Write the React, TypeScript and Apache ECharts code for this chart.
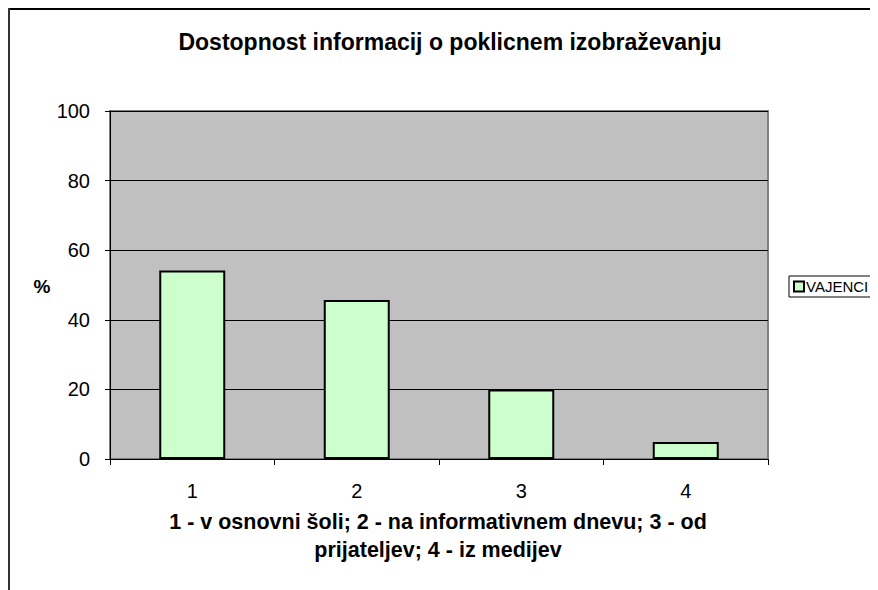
import React, { useEffect, useRef } from "react";
import * as echarts from "echarts";

const categories = ["1", "2", "3", "4"];
const vajenci = [54.2, 45.7, 20.0, 4.9];
const seriesName = "VAJENCI";
const titleText = "Dostopnost informacij o poklicnem izobraževanju";
const xAxisTitleLines = ["1 - v osnovni šoli; 2 - na informativnem dnevu; 3 - od", "prijateljev; 4 - iz medijev"];
const yAxisTitle = "%";

const FONT = "'Liberation Sans', Arial, sans-serif";

export default function App() {
  const ref = useRef<HTMLDivElement>(null);
  useEffect(() => {
    if (!ref.current) return;
    const chart = echarts.init(ref.current, null, { renderer: "svg" });
    chart.setOption({
      animation: false,
      backgroundColor: "#ffffff",
      textStyle: { fontFamily: FONT, color: "#000" },
      grid: {
        left: 102,
        top: 103,
        right: 110,
        bottom: 131,
        show: true,
        backgroundColor: "#C0C0C0",
        borderColor: "#808080",
        borderWidth: 2,
      },
      legend: {
        show: true,
        left: 781,
        top: 268,
        orient: "vertical",
        data: [seriesName],
        icon: "rect",
        itemWidth: 10,
        itemHeight: 10,
        itemGap: 4,
        padding: [3, 20, 3, 4],
        borderColor: "#000",
        borderWidth: 1,
        backgroundColor: "#fff",
        textStyle: { fontFamily: FONT, fontSize: 15, color: "#000", padding: [0, 0, 0, -3] },
      },
      xAxis: {
        type: "category",
        data: categories,
        boundaryGap: true,
        axisLine: { show: true, lineStyle: { color: "#000", width: 1 } },
        axisTick: { show: true, length: 6, lineStyle: { color: "#000" } },
        axisLabel: { fontFamily: FONT, fontSize: 20, color: "#000", margin: 22 },
        splitLine: { show: false },
      },
      yAxis: {
        type: "value",
        min: 0,
        max: 100,
        interval: 20,
        axisLine: { show: true, lineStyle: { color: "#000", width: 1 } },
        axisTick: { show: true, length: 5, lineStyle: { color: "#000" } },
        axisLabel: { fontFamily: FONT, fontSize: 20, color: "#000", margin: 20 },
        splitLine: { show: true, lineStyle: { color: "#000", width: 1 } },
      },
      series: [
        {
          name: seriesName,
          type: "bar",
          data: vajenci,
          barWidth: 66,
          itemStyle: { color: "#CCFFCC", borderColor: "#000", borderWidth: 2 },
        },
      ],
      graphic: [
        { type: "line", shape: { x1: 0, y1: 1, x2: 870, y2: 1 }, style: { stroke: "#000", lineWidth: 2 } },
        { type: "line", shape: { x1: 1, y1: 0, x2: 1, y2: 582 }, style: { stroke: "#333", lineWidth: 2 } },
        {
          type: "text",
          x: 442,
          y: 34,
          style: {
            text: titleText,
            fontFamily: FONT,
            fontSize: 23,
            fontWeight: "bold",
            fill: "#000",
            textAlign: "center",
            textVerticalAlign: "middle",
          },
        },
        {
          type: "text",
          x: 34,
          y: 278,
          style: {
            text: yAxisTitle,
            fontFamily: FONT,
            fontSize: 19,
            fontWeight: "bold",
            fill: "#000",
            textAlign: "center",
            textVerticalAlign: "middle",
          },
        },
        {
          type: "text",
          x: 430,
          y: 514,
          style: {
            text: xAxisTitleLines[0],
            fontFamily: FONT,
            fontSize: 21.5,
            fontWeight: "bold",
            fill: "#000",
            textAlign: "center",
            textVerticalAlign: "middle",
          },
        },
        {
          type: "text",
          x: 430,
          y: 542,
          style: {
            text: xAxisTitleLines[1],
            fontFamily: FONT,
            fontSize: 21.5,
            fontWeight: "bold",
            fill: "#000",
            textAlign: "center",
            textVerticalAlign: "middle",
          },
        },
      ],
    });
    return () => chart.dispose();
  }, []);
  return <div ref={ref} style={{ width: 870, height: 582 }} />;
}
